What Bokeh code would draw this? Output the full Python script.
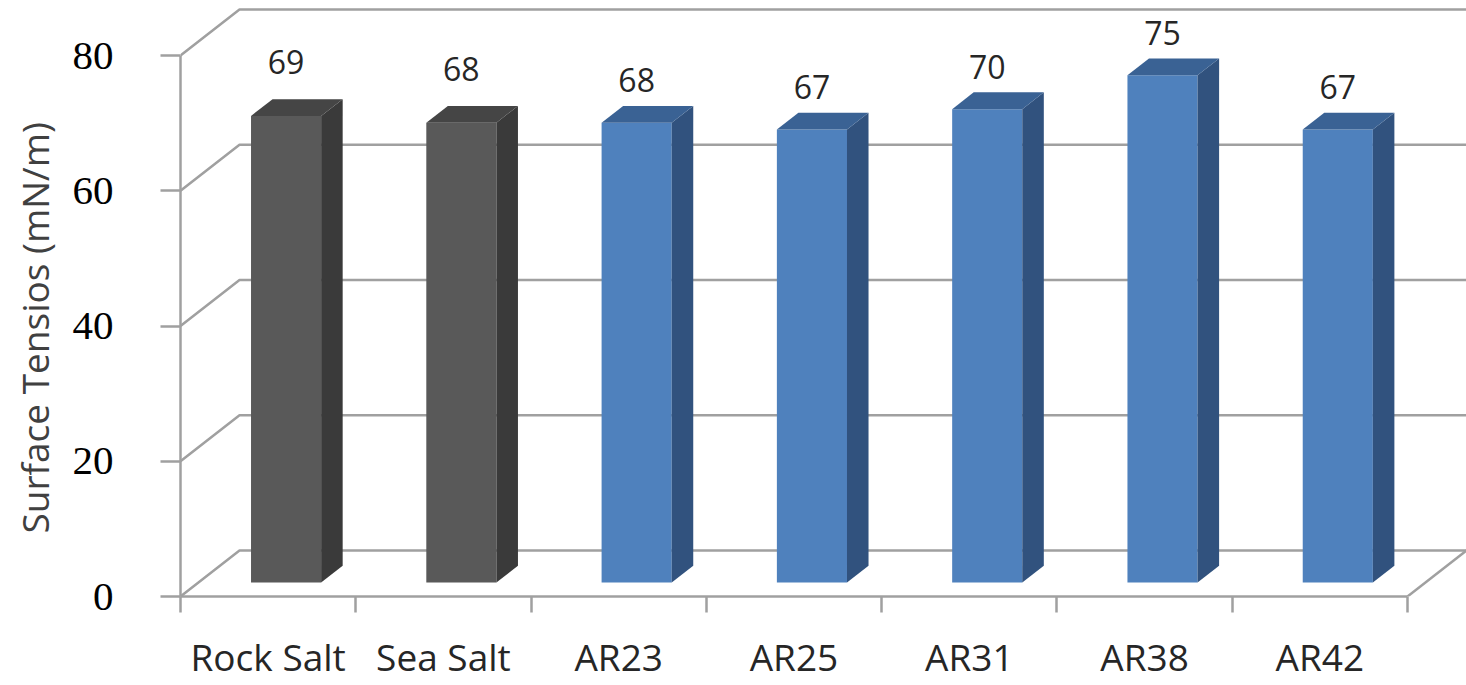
from bokeh.plotting import figure
from bokeh.models import Range1d, FixedTicker, Title
from bokeh.embed import file_html
from bokeh.resources import INLINE
from bokeh.core.properties import value

# ---- data -------------------------------------------------------------
categories = ["Rock Salt", "Sea Salt", "AR23", "AR25", "AR31", "AR38", "AR42"]
salt_values = [69, 68]            # Rock Salt, Sea Salt
ar_values = [68, 67, 70, 75, 67]  # AR23 .. AR42
y_ticks = [0, 20, 40, 60, 80]
y_title = "Surface Tensios (mN/m)"

# ---- 3-D box geometry (oblique projection, data units) -----------------
N = len(categories)
Y_MAX = 80
DEPTH_X = 0.3366      # horizontal shift of the back wall
DEPTH_Y = 6.80        # vertical shift of the back wall
BAR_SHIFT = 0.304     # where the bar front faces sit inside the box depth
BAR_DEPTH = 0.365     # depth of each bar, as a fraction of box depth
BAR_WIDTH = 0.40

GRID = "#a0a0a0"
TEXT = "#262626"

p = figure(width=1466, height=685, output_backend="svg", toolbar_location=None,
           x_range=Range1d(0, N + DEPTH_X), y_range=Range1d(0, Y_MAX + DEPTH_Y + 0.3),
           min_border_left=180, min_border_right=0, min_border_top=7,
           min_border_bottom=89, outline_line_color=None,
           background_fill_color="white", border_fill_color="white")
p.grid.visible = False

# back wall gridlines and the diagonals joining them to the front axis
xs, ys = [], []
for t in y_ticks:
    xs.append([0, DEPTH_X, N + DEPTH_X])
    ys.append([t, t + DEPTH_Y, t + DEPTH_Y])
# right edge of the floor
xs.append([N, N + DEPTH_X])
ys.append([0, DEPTH_Y])
p.multi_line(xs, ys, line_color=GRID, line_width=2.5)

# ---- bars ---------------------------------------------------------------
base = BAR_SHIFT * DEPTH_Y
dx = BAR_DEPTH * DEPTH_X
dy = BAR_DEPTH * DEPTH_Y


def draw_series(idx, vals, front, side, top, label_gap):
    lefts = [i + 0.5 + BAR_SHIFT * DEPTH_X - BAR_WIDTH / 2 for i in idx]
    rights = [l + BAR_WIDTH for l in lefts]
    tops = [base + v for v in vals]
    p.quad(left=lefts, right=rights, bottom=base, top=tops,
           fill_color=front, line_color=None)
    side_x = [[r, r + dx, r + dx, r] for r in rights]
    side_y = [[base, base + dy, t + dy, t] for t in tops]
    p.patches(side_x, side_y, fill_color=side, line_color=None)
    top_x = [[l, r, r + dx, l + dx] for l, r in zip(lefts, rights)]
    top_y = [[t, t, t + dy, t + dy] for t in tops]
    p.patches(top_x, top_y, fill_color=top, line_color=None)
    p.text(x=[(l + r) / 2 for l, r in zip(lefts, rights)],
           y=[t + label_gap for t in tops],
           text=[str(v) for v in vals],
           text_font=value("Open Sans"), text_font_size="32px",
           text_color=TEXT, text_align="center", text_baseline="alphabetic")


draw_series(range(0, 2), salt_values, "#595959", "#3a3a3a", "#454545", 8.0)
draw_series(range(2, N), ar_values, "#4f81bd", "#31527e", "#3a6294", 6.3)

# ---- axes -------------------------------------------------------------
ya = p.yaxis[0]
ya.bounds = (0, Y_MAX)
ya.ticker = FixedTicker(ticks=y_ticks)
ya.axis_line_color = GRID
ya.axis_line_width = 2.5
ya.major_tick_line_color = GRID
ya.major_tick_line_width = 2.5
ya.major_tick_in = 0
ya.major_tick_out = 20
ya.minor_tick_line_color = None
ya.major_label_standoff = 47
ya.major_label_text_font = "Liberation Serif"
ya.major_label_text_font_size = "41px"
ya.major_label_text_color = "black"

xa = p.xaxis[0]
xa.bounds = (0, N)
xa.ticker = FixedTicker(ticks=[i + 0.5 for i in range(N)],
                        minor_ticks=list(range(N + 1)))
xa.major_label_overrides = {i + 0.5: c for i, c in enumerate(categories)}
xa.axis_line_color = GRID
xa.axis_line_width = 2.5
xa.major_tick_line_color = None
xa.major_tick_in = 0
xa.major_tick_out = 0
xa.minor_tick_line_color = GRID
xa.minor_tick_line_width = 2.5
xa.minor_tick_in = 0
xa.minor_tick_out = 16
xa.major_label_standoff = 18
xa.major_label_text_font = "Open Sans"
xa.major_label_text_font_size = "37px"
xa.major_label_text_color = TEXT

# vertical axis title, placed left of the tick labels
p.add_layout(Title(text=y_title, align="left", vertical_align="top",
                   offset=63, standoff=15,
                   text_font="Open Sans", text_font_size="37px",
                   text_font_style="normal", text_color="#404040"), "left")

open("out.html", "w").write(file_html(p, INLINE))
